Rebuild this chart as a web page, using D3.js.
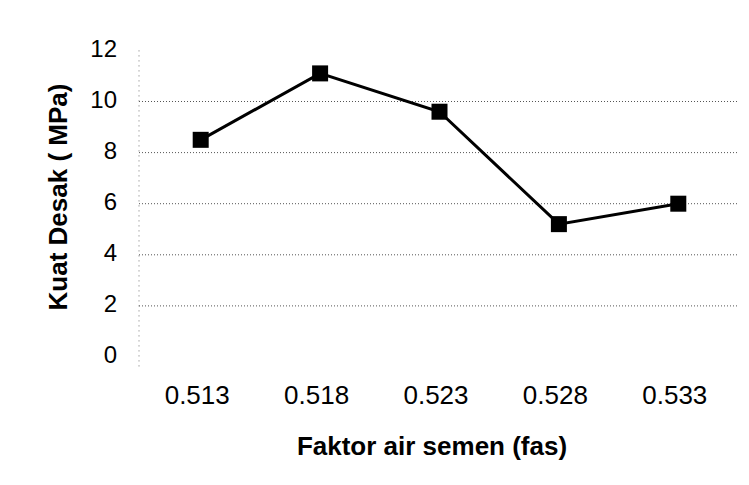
<!DOCTYPE html>
<html>
<head>
<meta charset="utf-8">
<script src="https://cdn.jsdelivr.net/npm/d3@7"></script>
<style>
    body { margin: 0; background: #fff; }
    text { font-family: "Liberation Sans", Arial, sans-serif; fill: #000; }
</style>
</head>
<body>
<svg></svg>
<script>
let categories = ["0.513", "0.518", "0.523", "0.528", "0.533"];
let values = [8.5, 11.1, 9.6, 5.2, 6.0];
let yTicks = [0, 2, 4, 6, 8, 10, 12];
let gridTicks = [2, 4, 6, 8, 10];

let width = 749;
let height = 485;

let svg = d3.select("svg")
    .attr("width", width)
    .attr("height", height);

// шкалы
let scaleX = d3.scalePoint()
    .domain(categories)
    .range([141, 738])
    .padding(0.5);

let scaleY = d3.scaleLinear()
    .domain([0, 12])
    .range([357, 50.4]);

// пунктирные линии сетки
svg.append("g")
    .selectAll("line")
    .data(gridTicks)
    .join("line")
    .attr("x1", 139)
    .attr("x2", 737)
    .attr("y1", d => scaleY(d))
    .attr("y2", d => scaleY(d))
    .style("stroke", "#555")
    .style("stroke-width", 1)
    .style("stroke-dasharray", "1,2");

// левая ось (пунктир)
svg.append("line")
    .attr("x1", 139).attr("x2", 139)
    .attr("y1", scaleY(12)).attr("y2", scaleY(0) + 10)
    .style("stroke", "#777")
    .style("stroke-width", 1)
    .style("stroke-dasharray", "1,4");

// подписи оси Y
let axisY = d3.axisLeft(scaleY).tickValues(yTicks).tickSize(0).tickPadding(0);
let gy = svg.append("g")
    .attr("transform", "translate(117, -2)")
    .call(axisY);
gy.select(".domain").remove();
gy.selectAll("text")
    .style("font-size", "24px")
    .style("font-family", "'Liberation Sans', Arial, sans-serif")
    .attr("fill", "#000");

// подписи оси X
let axisX = d3.axisBottom(scaleX).tickSize(0).tickPadding(0);
let gx = svg.append("g")
    .attr("transform", "translate(-4, 386)")
    .call(axisX);
gx.select(".domain").remove();
gx.selectAll("text")
    .attr("dy", "0.71em")
    .style("font-size", "26px")
    .style("font-family", "'Liberation Sans', Arial, sans-serif")
    .attr("fill", "#000");

// линия графика
let data = categories.map((c, i) => ({x: c, f: values[i]}));
let lineF = d3.line()
    .x(d => scaleX(d.x))
    .y(d => scaleY(d.f));

svg.append("path")
    .datum(data)
    .attr("d", lineF)
    .style("fill", "none")
    .style("stroke", "#000")
    .style("stroke-width", 3);

// маркеры
svg.append("g")
    .selectAll("rect")
    .data(data)
    .join("rect")
    .attr("x", d => scaleX(d.x) - 8)
    .attr("y", d => scaleY(d.f) - 8)
    .attr("width", 16)
    .attr("height", 16)
    .style("fill", "#000");

// названия осей
svg.append("text")
    .attr("x", 432)
    .attr("y", 455)
    .attr("text-anchor", "middle")
    .style("font-size", "26px")
    .style("font-weight", "bold")
    .text("Faktor air semen (fas)");

svg.append("text")
    .attr("transform", "translate(67, 197) rotate(-90)")
    .attr("text-anchor", "middle")
    .style("font-size", "26px")
    .style("font-weight", "bold")
    .text("Kuat Desak ( MPa)");
</script>
</body>
</html>
